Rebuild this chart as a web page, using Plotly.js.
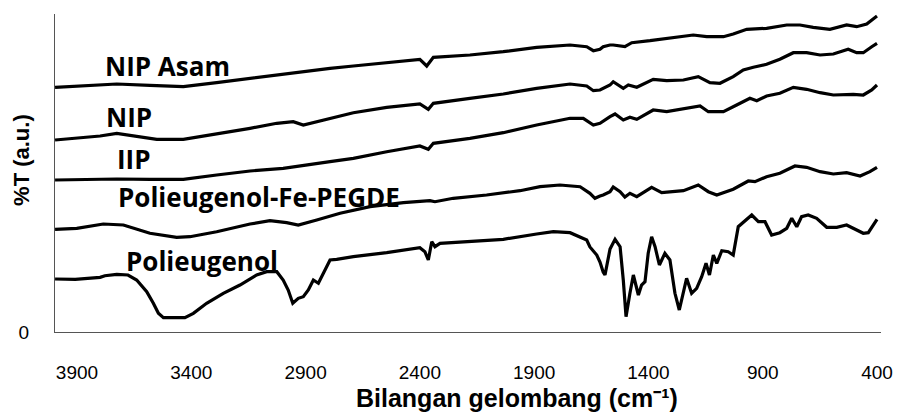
<!DOCTYPE html>
<html>
<head>
<meta charset="utf-8">
<script src="https://cdn.plot.ly/plotly-3.0.1.min.js"></script>
<style>html,body{margin:0;padding:0;background:#fff;}#chart{width:898px;height:415px;}</style>
</head>
<body>
<div id="chart"></div>
<script>
// Series names (top to bottom)
var seriesNames = ['NIP Asam', 'NIP', 'IIP', 'Polieugenol-Fe-PEGDE', 'Polieugenol'];

// Wavenumbers (cm^-1) and %T (a.u.) values
var wnNipAsam = [3996,3872,3726,3581,3435,3289,3143,2998,2851,2793,2691,2545,2400,2370,2341,2181,2035,1889,1743,1670,1641,1612,1598,1568,1554,1503,1473,1393,1320,1204,1145,1072,1029,970,883,795,737,679,606,533,489,445,400];
var tNipAsam  = [244.7,246,248,246.7,245.3,249.3,253.7,258,262,263.7,266,269.3,272.7,266,274.7,277,280.3,284.7,287,285.3,281.3,282.7,285.3,287,287,285.3,289.3,291.3,293.7,297,295.3,295.3,298,302.7,303.7,307,307,304.7,302.7,307,305.3,308,316];

var wnNip = [3996,3872,3799,3726,3654,3551,3435,3289,3143,3026,2954,2910,2851,2793,2691,2545,2400,2363,2341,2181,2035,1889,1743,1670,1641,1612,1598,1568,1554,1510,1488,1451,1379,1320,1247,1182,1131,1087,1029,985,941,883,825,766,708,649,591,526,489,460,423,400];
var tNip  = [192,194.7,196,198.7,196,192.7,192.7,198,203.7,208.7,210.3,207,210.3,214,219.3,224.7,228,222.7,228.7,233.7,238,243.7,248,246,241.3,242,243.7,247,250.3,243.7,247,244.7,252.7,251.3,252,255.3,249.3,248.7,255.3,262,264.7,267.7,272.7,279.3,279.3,277,278,282.7,279.3,279.3,285.3,288.7];

var wnIip = [3996,3872,3726,3581,3435,3289,3143,2998,2851,2793,2691,2545,2400,2363,2341,2181,2035,1889,1743,1685,1641,1612,1568,1546,1510,1481,1451,1379,1320,1233,1174,1138,1072,1014,956,926,883,825,766,708,649,591,504,460,423,400];
var tIip  = [152,152.7,153,152.7,152.7,157,161,163.7,168,170.3,173.7,180.3,186,182.7,188.7,193.7,199.3,207,213.7,213.7,207,208.7,215.3,218,212,214.7,212.7,222,220.3,223.7,226,220.3,220.3,227,233.7,231.3,236,238.7,244.7,242.7,239.3,237,237.7,237,242,247];

var wnPegde = [3996,3901,3785,3697,3581,3464,3406,3289,3143,3056,2983,2932,2851,2749,2618,2472,2356,2334,2254,2108,1962,1874,1787,1699,1656,1634,1612,1598,1568,1554,1524,1503,1481,1451,1386,1342,1247,1182,1138,1101,1029,963,934,883,825,759,708,649,591,533,474,431,400];
var tPegde  = [102.7,103.7,108,107,98.7,94.7,95.3,100.3,108,111.3,109.3,107,112,118.7,125.3,129.3,131.3,130.3,133.7,137,141.3,145.3,147,145.3,138.7,133.7,136,137,140.3,145,140.3,135,138.7,135.3,144.7,139.3,141.3,147,140.3,137,142.8,151,150.3,155.3,158.7,166,164.7,160.3,158,159.3,156,160.3,164.7];

var wnPoli = [3996,3908,3799,3778,3726,3677,3639,3595,3566,3544,3522,3428,3391,3333,3260,3187,3114,3070,3026,2998,2976,2956,2932,2910,2888,2866,2844,2822,2793,2764,2691,2545,2400,2378,2363,2348,2334,2312,2181,2035,1889,1816,1743,1699,1670,1656,1626,1612,1598,1590,1568,1546,1524,1510,1498,1481,1466,1444,1430,1415,1401,1386,1371,1352,1328,1306,1284,1265,1247,1233,1211,1189,1167,1148,1133,1116,1101,1079,1051,1029,1007,985,948,919,890,861,825,795,773,751,730,701,664,620,576,533,489,460,438,416,400];
var tPoli  = [53,52.7,54.7,56.3,57.7,57,52,40.3,28.7,18.7,14.3,14.3,18.7,28.7,38.7,47,57,60.3,60.3,52,42,28.7,33.7,35.3,42,52,48.7,58.7,72,72.7,75.3,79.3,84.3,80.3,72,90.3,85.3,88.7,90.3,92.7,98,100.3,99.3,95,92,85,77,70,60,57,83,92.7,85.3,52,15.3,38.7,57,37,47,50.3,78.7,95.3,85.3,67,78.7,72,38.7,22,38.7,53.7,38.7,43.7,55.3,68.7,57,77,68.7,81.3,80.3,77,105.3,109.3,117,110.3,110.3,97,99.3,103.7,113.7,105.3,115.3,117,113.7,104.7,104.7,107,102,98.7,99.3,107,112.7];

// Tick labels
var xTickVals = [3900, 3400, 2900, 2400, 1900, 1400, 900, 400];
var xTickText = ['3900', '3400', '2900', '2400', '1900', '1400', '900', '400'];
var yTickVals = [0];
var yTickText = ['0'];

var xs = [wnNipAsam, wnNip, wnIip, wnPegde, wnPoli];
var ys = [tNipAsam, tNip, tIip, tPegde, tPoli];

var traces = seriesNames.map(function (name, i) {
  return {
    type: 'scatter', mode: 'lines', name: name,
    x: xs[i], y: ys[i],
    line: {color: '#000000', width: 3.2},
    hoverinfo: 'skip'
  };
});

// label anchor points (data coordinates)
var labelPos = [[3782, 266], [3778, 215.5], [3730, 173], [3725, 135.5], [3690, 71]];
var labelFont = {family: '"Open Sans", Lato, sans-serif', size: 26, color: '#000', weight: 700};

var annotations = seriesNames.map(function (name, i) {
  return {
    text: name, x: labelPos[i][0], y: labelPos[i][1], xref: 'x', yref: 'y',
    xanchor: 'left', yanchor: 'middle', showarrow: false, font: labelFont, borderpad: 0
  };
});

annotations.push({
  text: 'Bilangan gelombang (cm\u207B\u00B9)', xref: 'paper', yref: 'paper',
  x: 0.559, y: -0.2075, xanchor: 'center', yanchor: 'middle', showarrow: false,
  font: {family: '"Liberation Sans", Arial, sans-serif', size: 25, color: '#000', weight: 700}
});
annotations.push({
  text: '%T (a.u.)', xref: 'paper', yref: 'paper', textangle: -90,
  x: -0.04, y: 0.541, xanchor: 'center', yanchor: 'middle', showarrow: false,
  font: {family: '"Liberation Sans", Arial, sans-serif', size: 22, color: '#000', weight: 700}
});

var layout = {
  width: 898, height: 415,
  margin: {l: 55, r: 17, t: 14, b: 83, pad: 0},
  paper_bgcolor: '#ffffff', plot_bgcolor: '#ffffff',
  showlegend: false,
  xaxis: {
    range: [3996.3, 382.5], tickmode: 'array', tickvals: xTickVals, ticktext: xTickText,
    showgrid: false, zeroline: false, showline: true, linecolor: '#555555', linewidth: 1,
    ticks: '', ticklabelstandoff: 23,
    tickfont: {family: '"Liberation Sans", Arial, sans-serif', size: 19, color: '#000'}
  },
  yaxis: {
    range: [0, 318], tickmode: 'array', tickvals: yTickVals, ticktext: yTickText,
    showgrid: false, zeroline: false, showline: true, linecolor: '#555555', linewidth: 1,
    ticks: '', ticklabelstandoff: 21,
    tickfont: {family: '"Liberation Sans", Arial, sans-serif', size: 19, color: '#000'}
  },
  annotations: annotations
};

Plotly.newPlot('chart', traces, layout, {staticPlot: true, displayModeBar: false});
</script>
</body>
</html>
